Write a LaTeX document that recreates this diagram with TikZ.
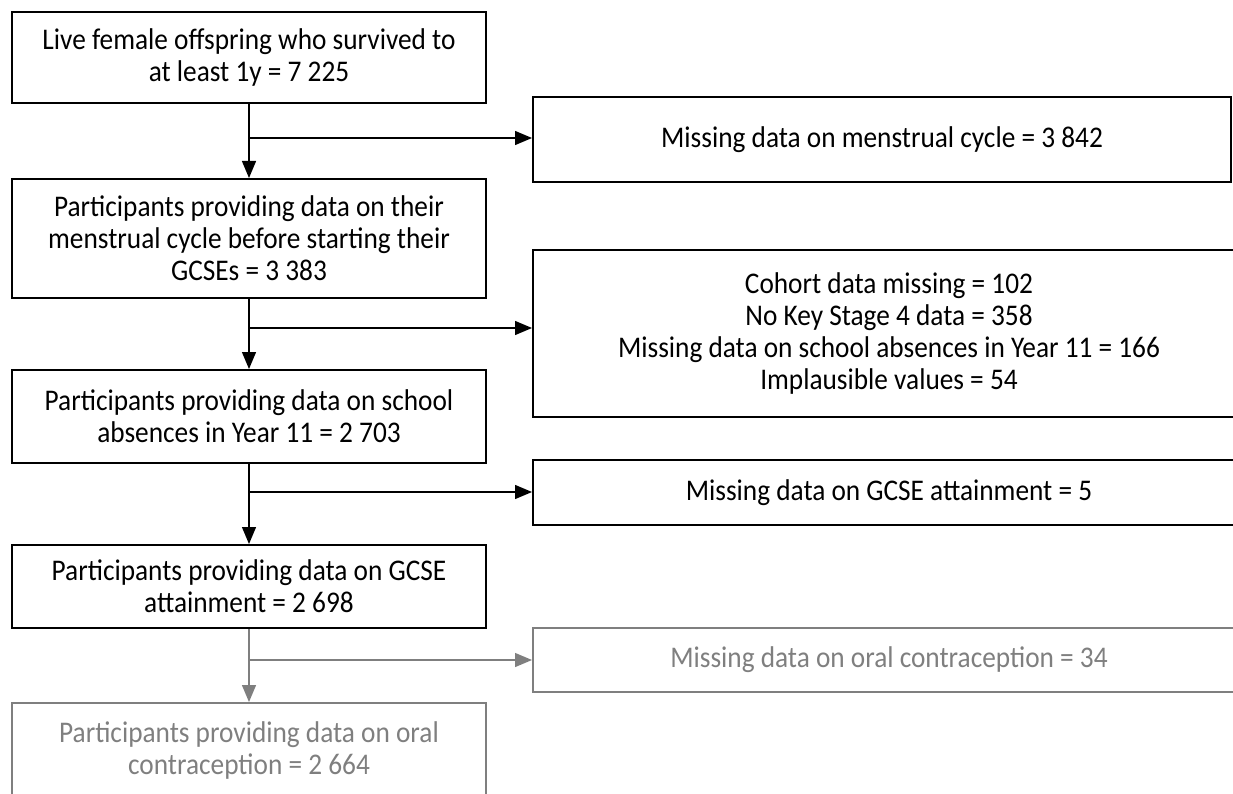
\documentclass[tikz,border=0pt]{standalone}
\usepackage{fontspec}
\setmainfont[FakeStretch=0.91]{Carlito}
\usetikzlibrary{arrows.meta,calc}
\definecolor{grayc}{HTML}{7F7F7F}
\begin{document}
\begin{tikzpicture}[x=1pt,y=-1pt,
  box/.style={draw=black,line width=2pt,rectangle,inner sep=0pt,align=center,
    font=\fontsize{30}{32}\selectfont},
  gbox/.style={box,draw=grayc,text=grayc},
  conn/.style={draw=black,line width=1.3pt,-{Triangle[length=17pt,width=14pt]}},
  gconn/.style={conn,draw=grayc}]
\useasboundingbox (0,0) rectangle (1233,794);
\clip (0,0) rectangle (1233,794);
% main column
\node[box,minimum width=474pt,minimum height=91pt] (b1) at (249,57.5)
  {Live female offspring who survived to\\at least 1y = 7 225};
\node[box,minimum width=474pt,minimum height=119pt] (b2) at (249,238.5)
  {Participants providing data on their\\menstrual cycle before starting their\\GCSEs = 3 383};
\node[box,minimum width=474pt,minimum height=93pt] (b3) at (249,416.5)
  {Participants providing data on school\\absences in Year 11 = 2 703};
\node[box,minimum width=474pt,minimum height=83pt] (b4) at (249,586.5)
  {Participants providing data on GCSE\\attainment = 2 698};
\node[gbox,minimum width=474pt,minimum height=94pt] (b5) at (249,750)
  {Participants providing data on oral\\contraception = 2 664};
% exclusion column
\node[box,minimum width=698pt,minimum height=85pt] (m1) at (882,139.5)
  {Missing data on menstrual cycle = 3 842};
\node[box,minimum width=712pt,minimum height=167pt] (m2) at (889,333.5)
  {Cohort data missing = 102\\No Key Stage 4 data = 358\\Missing data on school absences in Year 11 = 166\\Implausible values = 54};
\node[box,minimum width=712pt,minimum height=65pt] (m3) at (889,492.5)
  {Missing data on GCSE attainment = 5};
\node[gbox,minimum width=712pt,minimum height=64pt] (m4) at (889,660)
  {Missing data on oral contraception = 34};
% junctions
\coordinate (j1) at (249,138);
\coordinate (j2) at (249,328);
\coordinate (j3) at (249,492);
\coordinate (j4) at (249,660);
% connectors
\draw[conn] (b1.south) -- (b2.north);
\draw[conn] (j1) -- (j1 -| m1.west);
\draw[conn] (b2.south) -- (b3.north);
\draw[conn] (j2) -- (j2 -| m2.west);
\draw[conn] (b3.south) -- (b4.north);
\draw[conn] (j3) -- (j3 -| m3.west);
\draw[gconn] (b4.south) -- (b5.north);
\draw[gconn] (j4) -- (j4 -| m4.west);
\end{tikzpicture}
\end{document}
